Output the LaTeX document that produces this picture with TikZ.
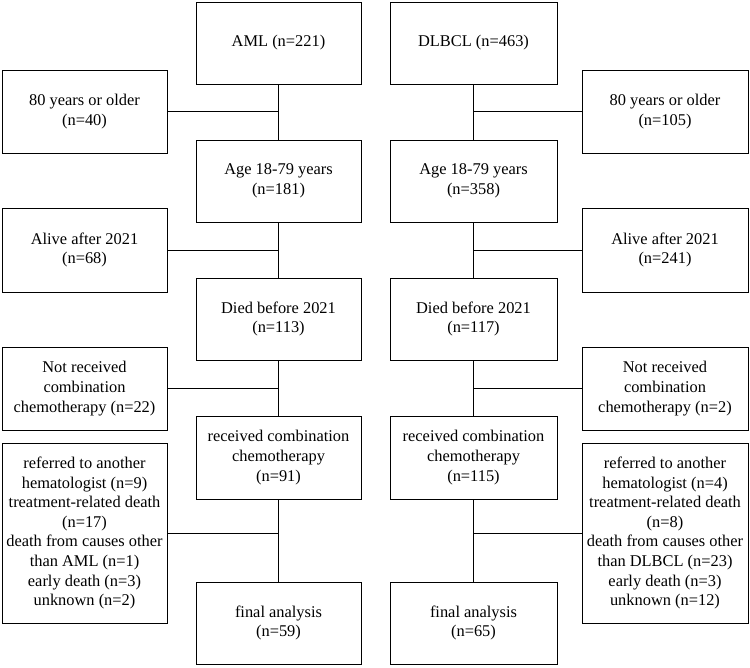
\documentclass[tikz,border=0pt]{standalone}
\usepackage{fontspec}
\setmainfont{Liberation Serif}
\begin{document}
\begin{tikzpicture}[x=1pt,y=-1pt,
  box/.style={draw, line width=1pt, rectangle, align=center, inner sep=0pt,
    font=\fontsize{16.4}{19.6}\selectfont, minimum width=#1},
  box/.default=165,
  link/.style={line width=1pt}]
\useasboundingbox (0,0) rectangle (750,667);
% left column
\node[box, minimum height=82] (aml) at (278.5,43) {AML (n=221)};
\node[box, minimum height=83] (lold) at (84.5,111.5) {80 years or older\\(n=40)};
\node[box, minimum height=82] (lage) at (278.5,181) {Age 18-79 years\\(n=181)};
\node[box, minimum height=84] (lalive) at (84.5,250) {Alive after 2021\\(n=68)};
\node[box, minimum height=82] (ldied) at (278.5,319) {Died before 2021\\(n=113)};
\node[box, minimum height=83] (lnot) at (84.5,388.5) {Not received\\combination\\chemotherapy (n=22)};
\node[box, minimum height=83] (lrec) at (278.5,457.5) {received combination\\chemotherapy\\(n=91)};
\node[box, minimum height=180] (lref) at (84.5,533) {referred to another\\hematologist (n=9)\\treatment-related death\\(n=17)\\death from causes other\\than AML (n=1)\\early death (n=3)\\unknown (n=2)};
\node[box, minimum height=82] (lfin) at (278.5,623) {final analysis\\(n=59)};
% right column
\node[box=167, minimum height=82] (dl) at (473.5,43) {DLBCL (n=463)};
\node[box=166, minimum height=83] (rold) at (665,111.5) {80 years or older\\(n=105)};
\node[box=167, minimum height=82] (rage) at (473.5,181) {Age 18-79 years\\(n=358)};
\node[box=166, minimum height=84] (ralive) at (665,250) {Alive after 2021\\(n=241)};
\node[box=167, minimum height=82] (rdied) at (473.5,319) {Died before 2021\\(n=117)};
\node[box=166, minimum height=83] (rnot) at (665,388.5) {Not received\\combination\\chemotherapy (n=2)};
\node[box=167, minimum height=83] (rrec) at (473.5,457.5) {received combination\\chemotherapy\\(n=115)};
\node[box=166, minimum height=180] (rref) at (665,533) {referred to another\\hematologist (n=4)\\treatment-related death\\(n=8)\\death from causes other\\than DLBCL (n=23)\\early death (n=3)\\unknown (n=12)};
\node[box=167, minimum height=82] (rfin) at (473.5,623) {final analysis\\(n=65)};
% vertical links
\draw[link] (aml) -- (lage);
\draw[link] (lage) -- (ldied);
\draw[link] (ldied) -- (lrec);
\draw[link] (lrec) -- (lfin);
\draw[link] (dl) -- (rage);
\draw[link] (rage) -- (rdied);
\draw[link] (rdied) -- (rrec);
\draw[link] (rrec) -- (rfin);
% side links
\draw[link] (lold.east) -- (lold.east -| aml.south);
\draw[link] (lalive.east) -- (lalive.east -| aml.south);
\draw[link] (lnot.east) -- (lnot.east -| aml.south);
\draw[link] (lref.east) -- (lref.east -| aml.south);
\draw[link] (rold.west) -- (rold.west -| dl.south);
\draw[link] (ralive.west) -- (ralive.west -| dl.south);
\draw[link] (rnot.west) -- (rnot.west -| dl.south);
\draw[link] (rref.west) -- (rref.west -| dl.south);
\end{tikzpicture}
\end{document}
